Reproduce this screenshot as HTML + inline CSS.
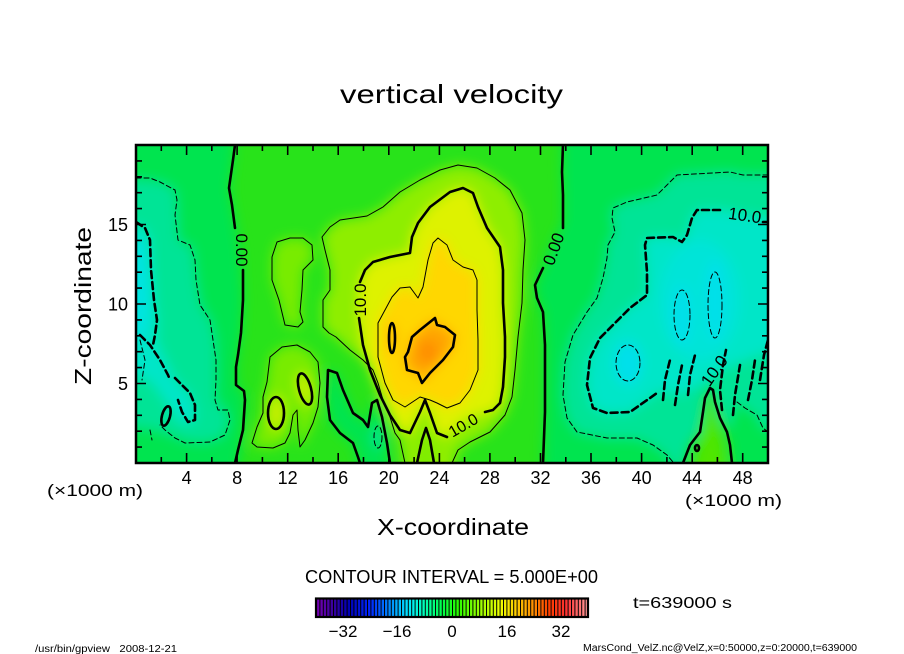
<!DOCTYPE html>
<html><head><meta charset="utf-8"><style>html,body{margin:0;padding:0;background:#fff}svg{display:block}</style></head>
<body>
<svg width="904" height="654" viewBox="0 0 904 654" xmlns="http://www.w3.org/2000/svg" font-family="'Liberation Sans', sans-serif">
<defs>
 <clipPath id="pc"><rect x="136" y="145" width="632" height="318"/></clipPath>
 <filter id="bl" x="80" y="90" width="760" height="430" filterUnits="userSpaceOnUse"><feGaussianBlur stdDeviation="6"/></filter>
 <linearGradient id="rb" x1="0" x2="1" y1="0" y2="0">
  <stop offset="0" stop-color="#7a00b4"/><stop offset="0.06" stop-color="#3c00a0"/>
  <stop offset="0.12" stop-color="#0000b4"/><stop offset="0.2" stop-color="#0028ff"/>
  <stop offset="0.28" stop-color="#0096ff"/><stop offset="0.34" stop-color="#00e6ff"/>
  <stop offset="0.4" stop-color="#00ffb4"/><stop offset="0.46" stop-color="#00ff50"/>
  <stop offset="0.52" stop-color="#28ff00"/><stop offset="0.6" stop-color="#96ff00"/>
  <stop offset="0.68" stop-color="#f0ff00"/><stop offset="0.74" stop-color="#ffc800"/>
  <stop offset="0.8" stop-color="#ff8c00"/><stop offset="0.86" stop-color="#ff3c00"/>
  <stop offset="0.92" stop-color="#ff3232"/><stop offset="1" stop-color="#ff9a9a"/>
 </linearGradient>
 <pattern id="st" x="316" y="0" width="3.4" height="30" patternUnits="userSpaceOnUse"><rect x="0" y="0" width="1" height="30" fill="#000"/></pattern>
</defs>

<!-- color field -->
<g clip-path="url(#pc)">
 <rect x="100" y="100" width="720" height="400" fill="#28e31a"/>
 <g filter="url(#bl)">
  <path fill="#00e450" d="M110,130 L235,130 L233,160 L229,188 L234,215 L240,250 L243,300 L241,333 L236,367 L237,388 L245,393 L243,430 L236,480 L110,480 Z"/>
  <path fill="#00e496" d="M110,178 L160,182 L175,190 L177,215 L178,240 L192,248 L196,280 L200,305 L210,320 L215,340 L216,370 L215,400 L225,410 L229,420 L222,437 L205,442 L185,440 L165,432 L150,428 L110,425 Z"/>
  <path fill="#00e6c8" d="M110,222 L145,228 L150,240 L151,270 L154,300 L157,320 L156,340 L165,360 L175,380 L190,395 L196,415 L190,425 L178,420 L165,400 L150,380 L110,370 Z"/>
  <ellipse cx="138" cy="290" rx="12" ry="50" fill="#00e4e0"/>
  <path fill="#00e450" d="M360,480 L358,457 L353,443 L340,433 L330,420 L327,397 L328,370 L337,373 L343,390 L353,413 L363,420 L368,427 L372,403 L377,400 L382,417 L387,443 L390,480 Z"/>
  <ellipse cx="378" cy="437" rx="5" ry="12" fill="#00e496"/>
  <path fill="#78ec00" d="M272,257 L277,242 L290,238 L303,238 L312,245 L313,260 L303,270 L302,290 L300,312 L303,322 L298,327 L285,325 L279,300 L272,280 Z"/>
  <path fill="#78ec00" d="M252,443 L257,427 L263,413 L263,397 L267,382 L270,357 L282,347 L297,345 L310,352 L318,362 L320,383 L318,407 L313,423 L305,440 L300,447 L298,430 L297,410 L293,415 L290,433 L285,443 L273,448 L257,447 Z"/>
  <ellipse cx="276" cy="413" rx="8" ry="17" fill="#c8f000"/>
  <ellipse cx="305" cy="389" rx="7" ry="17" fill="#c8f000" transform="rotate(-15 305 389)"/>
  <path fill="#8eee00" d="M405,480 L400,440 L395,433 L390,417 L383,400 L378,383 L373,370 L363,360 L350,350 L336,337 L329,333 L323,327 L323,300 L330,290 L330,270 L325,250 L322,237 L330,227 L340,220 L367,216 L383,207 L400,192 L420,180 L440,170 L458,165 L477,168 L495,178 L510,190 L522,213 L525,240 L523,270 L522,303 L518,337 L515,370 L512,397 L505,415 L490,432 L470,442 L458,450 L452,480 Z"/>
  <path fill="#def200" d="M359,318 L360,282 L365,270 L373,262 L390,257 L410,253 L412,237 L418,223 L430,207 L450,192 L463,188 L473,193 L478,207 L487,228 L500,247 L503,270 L503,303 L505,337 L505,357 L503,387 L500,403 L493,410 L483,413 L463,420 L447,437 L437,433 L430,413 L425,400 L420,412 L410,433 L400,430 L390,415 L380,395 L370,370 L363,345 Z"/>
  <path fill="#ffd700" d="M433,243 L438,238 L447,245 L453,260 L463,267 L473,270 L477,280 L477,310 L478,340 L478,370 L470,390 L460,403 L447,408 L437,403 L430,400 L420,397 L405,407 L393,400 L385,383 L378,357 L378,323 L392,297 L400,288 L410,287 L418,298 L423,287 L428,260 Z"/>
  <path fill="#ffa500" d="M408,352 L412,337 L420,330 L430,322 L435,318 L437,325 L445,327 L455,335 L453,347 L443,360 L430,373 L422,383 L418,373 L407,370 L405,357 Z"/>
  <ellipse cx="392" cy="338" rx="4" ry="15" fill="#ffb000"/>
  <ellipse cx="428" cy="352" rx="9" ry="12" fill="#ff8c00"/>
  <path fill="#78ec00" d="M417,480 L422,440 L426,428 L430,440 L434,480 Z"/>
  <path fill="#00e450" d="M563,130 L790,130 L790,480 L732,480 L730,445 L727,432 L720,418 L715,402 L713,390 L710,388 L705,398 L703,412 L700,432 L690,445 L683,480 L543,480 L545,412 L545,345 L543,312 L537,298 L535,285 L543,268 L550,250 L563,222 L563,195 L562,172 Z"/>
  <path fill="#00e496" d="M790,175 L743,175 L730,172 L677,175 L667,185 L657,195 L627,202 L613,208 L612,218 L615,232 L608,245 L607,258 L603,278 L597,298 L587,312 L573,335 L565,362 L563,395 L567,418 L577,432 L607,438 L637,438 L653,445 L667,455 L675,470 L683,470 L690,445 L700,432 L703,412 L705,398 L710,388 L713,390 L715,402 L720,418 L727,432 L737,402 L757,415 L763,428 L790,432 Z"/>
  <path fill="#00e6c8" d="M790,222 L745,215 L720,210 L697,210 L692,218 L687,235 L682,242 L673,237 L647,238 L645,245 L647,272 L647,295 L630,308 L613,325 L600,338 L590,358 L587,385 L593,408 L607,413 L630,412 L650,398 L660,390 L680,395 L700,385 L720,370 L745,360 L790,345 Z"/>
  <ellipse cx="700" cy="300" rx="40" ry="60" fill="#00e4d8"/>
  <ellipse cx="628" cy="363" rx="14" ry="22" fill="#00e0ea"/>
  <ellipse cx="682" cy="315" rx="10" ry="30" fill="#00e0ea"/>
  <ellipse cx="715" cy="300" rx="10" ry="40" fill="#00e0ea"/>
  <path fill="#50e600" d="M690,480 L700,440 L706,415 L710,395 L716,415 L722,440 L728,480 Z"/>
 </g>

 <g fill="none" stroke="#000" stroke-linejoin="round" stroke-linecap="round">
  <g stroke-width="2.6">
   <path d="M235,145 L233,160 L229,188 L232,205 L235,228"/>
   <path d="M243,270 L243,300 L241,333 L238,355 L236,367 L236,385 L244,391 L245,400 L243,430 L238,450 L235,463"/>
   <path d="M563,145 L562,172 L563,195 L563,228"/>
   <path d="M543,268 L535,285 L537,298 L543,312 L545,345 L545,412 L543,463"/>
   <path d="M683,463 L690,445 L700,432 L703,412 L705,398 L710,388 L713,390 L715,402 L720,418 L727,432 L730,445 L732,463"/>
   <path d="M360,463 L358,457 L353,443 L340,433 L330,420 L327,397 L328,370 L337,373 L343,390 L353,413 L363,420 L368,427 L372,403 L377,400 L382,417 L387,443 L390,463"/>
   <path d="M360,282 L365,270 L373,262 L390,257 L410,253 L412,237 L418,223 L430,207 L450,192 L463,188 L473,193 L478,207 L487,228 L500,247 L503,270 L503,303 L505,337 L505,357 L503,387 L500,403 L493,410 L485,412"/>
   <path d="M447,437 L437,433 L430,413 L425,400 L420,412 L410,433 L400,430 L390,415 L380,395 L370,370 L363,345 L359,318"/>
   <path d="M417,463 L422,440 L426,428 L430,440 L434,463"/>
   <path d="M408,352 L412,337 L420,330 L430,322 L435,318 L437,325 L445,327 L455,335 L453,347 L443,360 L430,373 L422,383 L418,373 L407,370 L405,357 Z"/>
   <ellipse cx="392" cy="338" rx="3" ry="15"/>
   <ellipse cx="276" cy="413" rx="8" ry="16"/>
   <ellipse cx="305" cy="389" rx="6" ry="16" transform="rotate(-15 305 389)"/>
   <ellipse cx="166" cy="416" rx="4" ry="10" transform="rotate(15 166 416)"/>
   <ellipse cx="697" cy="448" rx="2" ry="3"/>
  </g>
  <g stroke-width="1">
   <path d="M405,463 L400,440 L395,433 L390,417 L383,400 L378,383 L373,370 L363,360 L350,350 L336,337 L329,333 L323,327 L323,300 L330,290 L330,270 L325,250 L322,237 L330,227 L340,220 L367,216 L383,207 L400,192 L420,180 L440,170 L458,165 L477,168 L495,178 L510,190 L522,213 L525,240 L523,270 L522,303 L518,337 L515,370 L512,397 L505,415 L490,432 L470,442 L458,450 L452,463"/>
   <path d="M433,243 L438,238 L447,245 L453,260 L463,267 L473,270 L477,280 L477,310 L478,340 L478,370 L470,390 L460,403 L447,408 L437,403 L430,400 L420,397 L405,407 L393,400 L385,383 L378,357 L378,323 L392,297 L400,288 L410,287 L418,298 L423,287 L428,260 Z"/>
   <path d="M272,257 L277,242 L290,238 L303,238 L312,245 L313,260 L303,270 L302,290 L300,312 L303,322 L298,327 L285,325 L279,300 L272,280 Z"/>
   <path d="M252,443 L257,427 L263,413 L263,397 L267,382 L270,357 L282,347 L297,345 L310,352 L318,362 L320,383 L318,407 L313,423 L305,440 L300,447 L298,430 L297,410 L293,415 L290,433 L285,443 L273,448 L257,447 Z"/>
  </g>
  <g stroke-width="1" stroke-dasharray="5,3">
   <path d="M136,178 L150,178 L160,182 L175,190 L177,200 L175,215 L178,240 L190,245 L195,260 L196,280 L200,305 L210,320 L213,340 L216,360 L216,380 L215,400 L218,410 L228,410 L230,420 L225,435 L210,442 L185,443 L175,438 L165,430 L160,425"/>
   <path d="M768,175 L743,175 L730,172 L677,175 L667,185 L657,195 L627,202 L613,208 L612,218 L615,232 L608,245 L607,258 L603,278 L597,298 L587,312 L573,335 L565,362 L563,395 L567,418 L577,432 L607,438 L637,438 L653,445 L667,455 L673,462"/>
   <path d="M737,402 L745,408 L757,415 L763,428 L768,432"/>
   <ellipse cx="628" cy="363" rx="12" ry="18"/>
   <ellipse cx="682" cy="315" rx="8" ry="25"/>
   <ellipse cx="715" cy="305" rx="7" ry="33"/>
   <ellipse cx="378" cy="437" rx="4" ry="11"/>
   <path d="M140,340 L145,360 L142,380"/>
   <path d="M150,430 L152,440"/>
  </g>
  <g stroke-width="2.6" stroke-dasharray="7,4">
   <path d="M136,222 L145,228 L150,240 L151,270 L154,300 L157,320 L155,335 L153,345"/>
   <path d="M140,335 L150,345 L160,360 L168,375 L170,380"/>
   <path d="M175,378 L182,385 L190,393 L195,405 L195,420 L188,422 L182,412 L178,400"/>
   <path d="M768,222 L763,222"/>
   <path d="M720,210 L697,210 L692,218 L687,235 L682,242 L673,237 L647,238 L645,245 L647,272 L647,295 L630,308 L613,325 L600,338 L590,358 L587,385 L593,408 L607,413 L630,412 L650,398 L657,393"/>
   <path d="M663,400 L665,380 L670,360"/>
   <path d="M675,405 L678,385 L682,365"/>
   <path d="M688,395 L690,375 L695,355"/>
   <path d="M722,410 L720,390 L723,365 L726,350"/>
   <path d="M733,415 L735,395 L740,365"/>
   <path d="M748,400 L752,380 L755,360"/>
   <path d="M760,380 L764,355 L768,340"/>
  </g>
 </g>
 <g font-size="17" fill="#000" text-anchor="middle">
  <text transform="translate(236,250) rotate(90)">0.00</text>
  <text transform="translate(366,300) rotate(-90)">10.0</text>
  <text transform="translate(466,430) rotate(-30)" font-size="16">10.0</text>
  <text transform="translate(559,251) rotate(-70)">0.00</text>
  <text transform="translate(744,221) rotate(8)">10.0</text>
  <text transform="translate(719,374) rotate(-55)">10.0</text>
 </g>
</g>

<rect x="136" y="145" width="632" height="318" fill="none" stroke="#000" stroke-width="2.5"/>
<g stroke="#000" stroke-width="1.6">
 <path d="M161.3,463 v-6 M186.6,463 v-10 M211.8,463 v-6 M237.1,463 v-10 M262.4,463 v-6 M287.7,463 v-10 M313,463 v-6 M338.2,463 v-10 M363.5,463 v-6 M388.8,463 v-10 M414.1,463 v-6 M439.4,463 v-10 M464.6,463 v-6 M489.9,463 v-10 M515.2,463 v-6 M540.5,463 v-10 M565.8,463 v-6 M591,463 v-10 M616.3,463 v-6 M641.6,463 v-10 M666.9,463 v-6 M692.2,463 v-10 M717.4,463 v-6 M742.7,463 v-10"/>
 <path d="M161.3,145 v6 M186.6,145 v10 M211.8,145 v6 M237.1,145 v10 M262.4,145 v6 M287.7,145 v10 M313,145 v6 M338.2,145 v10 M363.5,145 v6 M388.8,145 v10 M414.1,145 v6 M439.4,145 v10 M464.6,145 v6 M489.9,145 v10 M515.2,145 v6 M540.5,145 v10 M565.8,145 v6 M591,145 v10 M616.3,145 v6 M641.6,145 v10 M666.9,145 v6 M692.2,145 v10 M717.4,145 v6 M742.7,145 v10"/>
 <path d="M136,447.1 h6 M136,431.2 h6 M136,415.3 h6 M136,399.4 h6 M136,383.5 h10 M136,367.6 h6 M136,351.7 h6 M136,335.8 h6 M136,319.9 h6 M136,304 h10 M136,288.1 h6 M136,272.2 h6 M136,256.3 h6 M136,240.4 h6 M136,224.5 h10 M136,208.6 h6 M136,192.7 h6 M136,176.8 h6 M136,160.9 h6"/>
 <path d="M768,447.1 h-6 M768,431.2 h-6 M768,415.3 h-6 M768,399.4 h-6 M768,383.5 h-10 M768,367.6 h-6 M768,351.7 h-6 M768,335.8 h-6 M768,319.9 h-6 M768,304 h-10 M768,288.1 h-6 M768,272.2 h-6 M768,256.3 h-6 M768,240.4 h-6 M768,224.5 h-10 M768,208.6 h-6 M768,192.7 h-6 M768,176.8 h-6 M768,160.9 h-6"/>
</g>

<g fill="#000">
 <text x="340" y="103" font-size="26" textLength="223" lengthAdjust="spacingAndGlyphs">vertical velocity</text>
 <g font-size="18" text-anchor="end">
  <text x="128" y="231">15</text>
  <text x="128" y="310.5">10</text>
  <text x="128" y="390">5</text>
 </g>
 <g font-size="18" text-anchor="middle">
  <text x="186.6" y="484">4</text>
  <text x="237.1" y="484">8</text>
  <text x="287.7" y="484">12</text>
  <text x="338.2" y="484">16</text>
  <text x="388.8" y="484">20</text>
  <text x="439.4" y="484">24</text>
  <text x="489.9" y="484">28</text>
  <text x="540.5" y="484">32</text>
  <text x="591" y="484">36</text>
  <text x="641.6" y="484">40</text>
  <text x="692.2" y="484">44</text>
  <text x="742.7" y="484">48</text>
 </g>
 <text x="47" y="496" font-size="17" textLength="96" lengthAdjust="spacingAndGlyphs">(×1000 m)</text>
 <text x="685" y="506" font-size="17" textLength="97" lengthAdjust="spacingAndGlyphs">(×1000 m)</text>
 <text x="377" y="535" font-size="23" textLength="152" lengthAdjust="spacingAndGlyphs">X-coordinate</text>
 <text transform="translate(91,306) rotate(-90)" x="-79" y="0" font-size="23" textLength="158" lengthAdjust="spacingAndGlyphs">Z-coordinate</text>
 <text x="305" y="583" font-size="18" textLength="293" lengthAdjust="spacingAndGlyphs">CONTOUR INTERVAL = 5.000E+00</text>
 <text x="633" y="608" font-size="16" textLength="99" lengthAdjust="spacingAndGlyphs">t=639000 s</text>
 <g font-size="17" text-anchor="middle">
  <text x="343" y="637">−32</text>
  <text x="397" y="637">−16</text>
  <text x="452" y="637">0</text>
  <text x="507" y="637">16</text>
  <text x="561" y="637">32</text>
 </g>
 <text x="35" y="652" font-size="10" textLength="142" lengthAdjust="spacingAndGlyphs" xml:space="preserve">/usr/bin/gpview   2008-12-21</text>
 <text x="583" y="651" font-size="10" textLength="274" lengthAdjust="spacingAndGlyphs">MarsCond_VelZ.nc@VelZ,x=0:50000,z=0:20000,t=639000</text>
</g>

<rect x="316" y="598.5" width="272" height="18.5" fill="url(#rb)"/>
<rect x="316" y="598.5" width="272" height="18.5" fill="url(#st)"/>
<rect x="316" y="598.5" width="272" height="18.5" fill="none" stroke="#000" stroke-width="2.2"/>
</svg>
</body></html>
